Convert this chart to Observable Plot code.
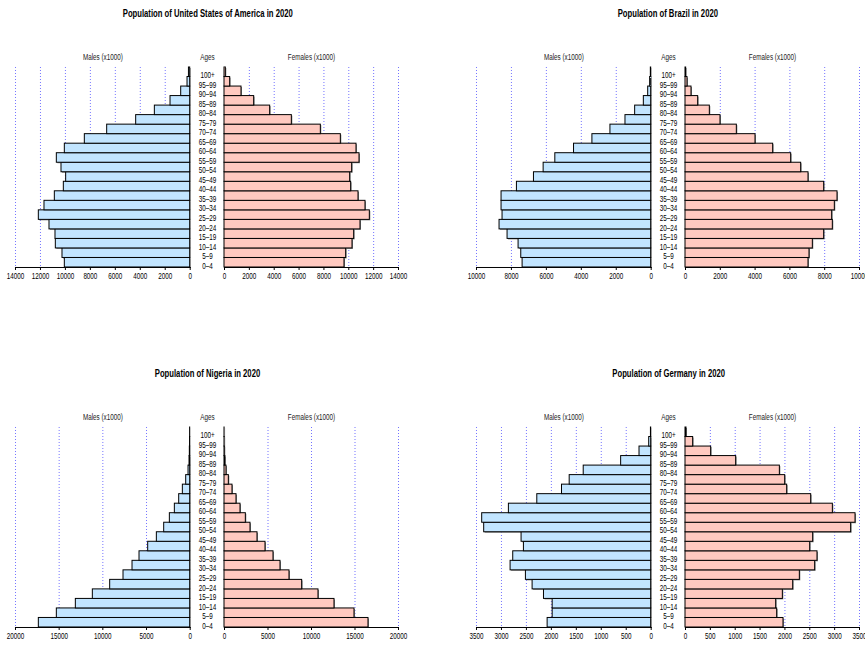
<!DOCTYPE html>
<html><head><meta charset="utf-8">
<script src="https://cdn.jsdelivr.net/npm/d3@7"></script>
<script src="https://cdn.jsdelivr.net/npm/@observablehq/plot@0.6"></script>
<style>
body{margin:0;background:#fff;}
#root{position:relative;width:865px;height:649px;overflow:hidden;font-family:"Liberation Sans",Arial,sans-serif;}
.title{position:absolute;font-weight:bold;font-size:11px;white-space:nowrap;color:#000;transform-origin:center center;}
.part{position:absolute;}
</style></head><body><div id="root"></div>
<script>
const ages = ["0–4","5–9","10–14","15–19","20–24","25–29","30–34","35–39","40–44","45–49","50–54","55–59","60–64","65–69","70–74","75–79","80–84","85–89","90–94","95–99","100+"];

const usMale   = [10047,10234,10768,10795,11276,12131,11677,10848,10127,9940,10314,10688,10047,8444,6653,4329,2832,1576,721,214,100];
const usFemale = [9655,9789,10299,10433,10942,11693,11345,10782,10191,10111,10272,10862,10621,9360,7751,5418,3674,2387,1368,456,107];
const brMale   = [7361,7438,7591,8222,8681,8509,8566,8566,7686,6711,6157,5488,4417,3365,2333,1472,918,421,172,60,20];
const brFemale = [7069,7126,7318,7969,8467,8429,8582,8736,7969,7069,6648,6073,5038,4023,2950,2011,1398,728,345,115,38];
const ngMale   = [17329,15268,13092,11146,9161,7634,6603,5802,4809,3817,2977,2328,1756,1260,840,458,190,76,40,20,10];
const ngFemale = [16550,14941,12642,10803,8926,7470,6436,5632,4712,3793,2988,2452,1839,1379,919,498,230,100,40,20,10];
const deMale   = [2075,1974,1974,2148,2376,2510,2817,2764,2550,2597,3346,3386,2851,2282,1787,1633,1352,602,234,40,5];
const deFemale = [1971,1844,1824,1958,2166,2300,2608,2655,2508,2568,3332,3420,2964,2528,2045,2005,1898,1019,516,154,20];

const usTicks = [0,2000,4000,6000,8000,10000,12000,14000];
const brTicks = [0,2000,4000,6000,8000,10000];
const ngTicks = [0,5000,10000,15000,20000];
const deTicks = [0,500,1000,1500,2000,2500,3000,3500];

const countries = ["United States of America","Brazil","Nigeria","Germany"];
const panels = [
  {name: countries[0], male: usMale, female: usFemale, ticks: usTicks, ox: 0,   oy: 0},
  {name: countries[1], male: brMale, female: brFemale, ticks: brTicks, ox: 461, oy: 0},
  {name: countries[2], male: ngMale, female: ngFemale, ticks: ngTicks, ox: 0,   oy: 360},
  {name: countries[3], male: deMale, female: deFemale, ticks: deTicks, ox: 461, oy: 360}
];

const FONT = '"Liberation Sans",Arial,sans-serif';
const MALE_COL = "#c2e5ff", FEMALE_COL = "#ffc9c0";
const H = 200;
const SQUEEZE = 0.7;
const root = document.getElementById("root");

function half(values, ticks, isMale) {
  const max = ticks[ticks.length - 1];
  const data = ages.map((a, i) => ({age: a, v: values[i]}));
  const W = isMale ? 174.7 : 174;
  const mL = isMale ? 15 : 40, mR = 15, mT = 16, mB = 22;
  const marks = [
    Plot.ruleX(ticks.filter(t => t > 0), {stroke: "#7373ff", strokeDasharray: "1,2", strokeWidth: 1}),
    Plot.barX(data, {x: "v", y: "age", fill: "#8c8c8c", dx: 1, dy: 1}),
    Plot.barX(data, {x: "v", y: "age", fill: isMale ? MALE_COL : FEMALE_COL, stroke: "#000", strokeWidth: 1}),
    Plot.frame({anchor: "bottom", stroke: "#000"}),
    Plot.axisX({ticks: ticks, tickSize: 3, tickPadding: 2, tickFormat: d => String(d), label: null, fontSize: 9}),
    Plot.text([isMale ? "Males (x1000)" : "Females (x1000)"], {frameAnchor: "top", dy: -10, lineAnchor: "middle", fontSize: 9, fill: "#222"})
  ];
  if (!isMale) {
    marks.push(Plot.text(data, {y: "age", text: "age", frameAnchor: "left", dx: -17, dy: 3, textAnchor: "middle", lineAnchor: "middle", fontSize: 9}));
    marks.push(Plot.text(["Ages"], {frameAnchor: "top-left", dx: -17, dy: -10, textAnchor: "middle", lineAnchor: "middle", fontSize: 9, fill: "#222"}));
  }
  const svg = Plot.plot({
    width: W + mL + mR, height: H + mT + mB,
    marginLeft: mL, marginRight: mR, marginTop: mT, marginBottom: mB,
    style: {fontFamily: FONT, fontSize: "9px", background: "transparent", overflow: "visible"},
    x: {domain: isMale ? [max, 0] : [0, max], label: null, axis: null},
    y: {domain: ages.slice().reverse(), padding: 0, axis: null, round: false},
    marks
  });
  return {svg, mL, mT};
}

function squeeze(svg) {
  svg.querySelectorAll("text").forEach(t => {
    const len = t.getComputedTextLength();
    if (len > 0) {
      t.setAttribute("textLength", (len * SQUEEZE).toFixed(2));
      t.setAttribute("lengthAdjust", "spacingAndGlyphs");
    }
  });
}

const titles = [];
for (const p of panels) {
  const t = document.createElement("div");
  t.className = "title";
  t.textContent = "Population of " + p.name + " in 2020";
  root.appendChild(t);
  titles.push({el: t, cx: 207.2 + p.ox, cy: 13 + p.oy});

  const m = half(p.male, p.ticks, true);
  m.svg.classList.add("part");
  m.svg.style.left = (15.3 + p.ox - m.mL) + "px";
  m.svg.style.top = (67.3 + p.oy - m.mT) + "px";
  root.appendChild(m.svg);
  squeeze(m.svg);

  const f = half(p.female, p.ticks, false);
  f.svg.classList.add("part");
  f.svg.style.left = (224.3 + p.ox - f.mL) + "px";
  f.svg.style.top = (67.3 + p.oy - f.mT) + "px";
  root.appendChild(f.svg);
  squeeze(f.svg);
}
// titles: squeeze so the US title is ~170px wide
const natural = titles[0].el.getBoundingClientRect().width;
const k = 170 / natural;
for (const t of titles) {
  const w = t.el.offsetWidth, h = t.el.offsetHeight;
  t.el.style.left = (t.cx - w / 2) + "px";
  t.el.style.top = (t.cy - h / 2) + "px";
  t.el.style.transform = "scaleX(" + k.toFixed(3) + ")";
}
</script>
</body></html>
